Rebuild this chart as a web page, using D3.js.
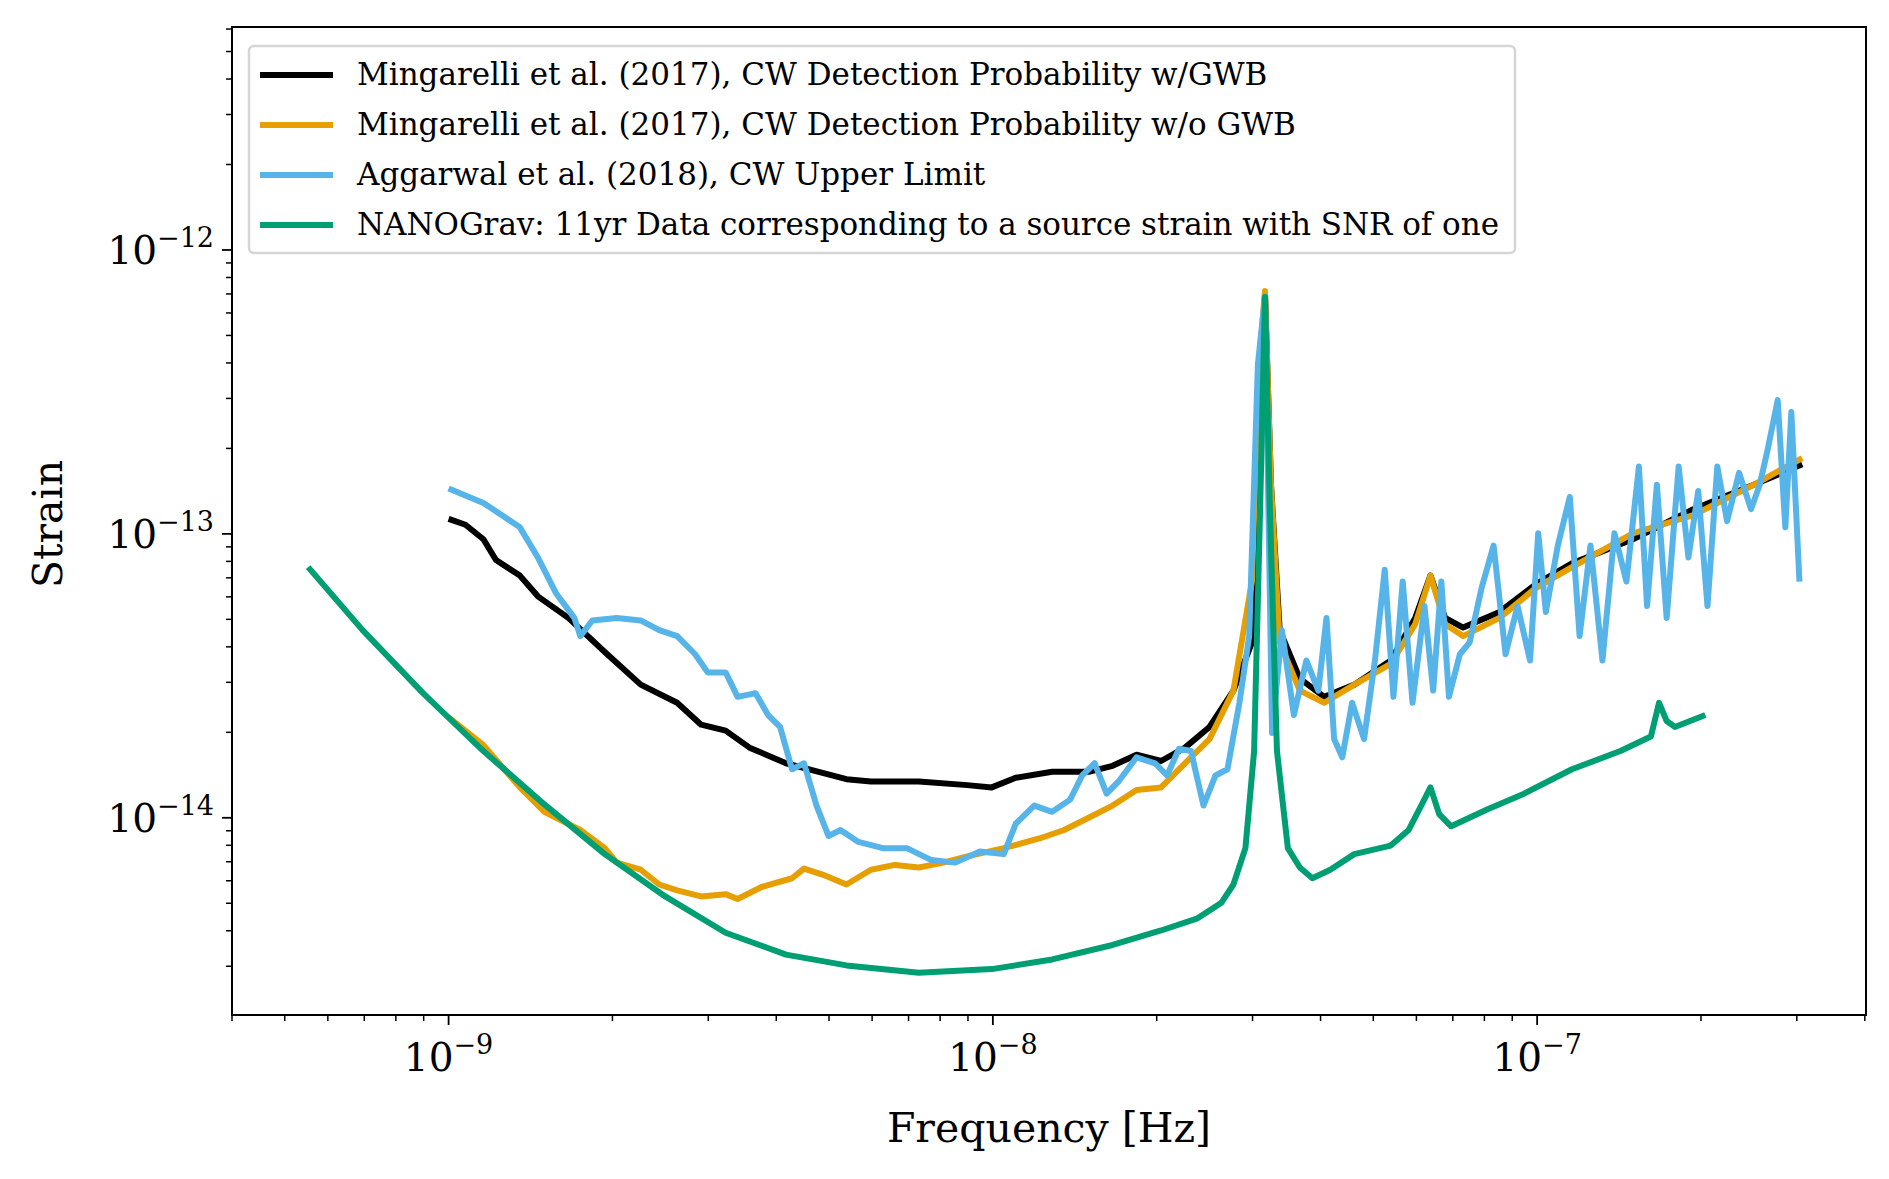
<!DOCTYPE html>
<html><head><meta charset="utf-8">
<script src="https://cdn.jsdelivr.net/npm/d3@7"></script>
<style>body{margin:0;background:#fff}text{font-family:"DejaVu Serif",serif;fill:#000}</style>
</head><body><svg id="c" width="1889" height="1179"></svg>
<script>
// [log10 frequency (Hz), log10 strain]
const blackGWB=[[-9.000,-12.947],[-8.969,-12.968],[-8.936,-13.019],[-8.913,-13.092],[-8.869,-13.147],[-8.836,-13.220],[-8.780,-13.296],[-8.713,-13.416],[-8.647,-13.531],[-8.580,-13.595],[-8.536,-13.672],[-8.491,-13.693],[-8.447,-13.753],[-8.380,-13.808],[-8.313,-13.842],[-8.269,-13.864],[-8.224,-13.872],[-8.136,-13.872],[-8.047,-13.885],[-8.002,-13.893],[-7.958,-13.859],[-7.891,-13.838],[-7.824,-13.838],[-7.780,-13.817],[-7.736,-13.778],[-7.691,-13.800],[-7.647,-13.753],[-7.602,-13.680],[-7.558,-13.552],[-7.524,-13.382],[-7.511,-12.614],[-7.500,-12.154],[-7.489,-12.827],[-7.473,-13.339],[-7.436,-13.510],[-7.391,-13.574],[-7.336,-13.531],[-7.269,-13.446],[-7.224,-13.296],[-7.196,-13.147],[-7.169,-13.296],[-7.136,-13.330],[-7.069,-13.275],[-7.002,-13.177],[-6.936,-13.104],[-6.824,-13.019],[-6.713,-12.913],[-6.602,-12.827],[-6.513,-12.755]];
const orangeNoGWB=[[-9.000,-13.646],[-8.936,-13.744],[-8.869,-13.893],[-8.824,-13.979],[-8.758,-14.043],[-8.713,-14.107],[-8.691,-14.158],[-8.647,-14.183],[-8.613,-14.235],[-8.580,-14.256],[-8.536,-14.277],[-8.491,-14.269],[-8.469,-14.286],[-8.424,-14.243],[-8.369,-14.213],[-8.347,-14.179],[-8.313,-14.200],[-8.269,-14.235],[-8.224,-14.183],[-8.180,-14.166],[-8.136,-14.175],[-8.091,-14.158],[-8.047,-14.136],[-7.980,-14.107],[-7.913,-14.072],[-7.869,-14.043],[-7.824,-14.000],[-7.780,-13.957],[-7.736,-13.902],[-7.691,-13.893],[-7.647,-13.808],[-7.602,-13.723],[-7.558,-13.552],[-7.524,-13.168],[-7.511,-12.401],[-7.500,-12.145],[-7.489,-12.827],[-7.473,-13.382],[-7.436,-13.552],[-7.391,-13.595],[-7.336,-13.531],[-7.269,-13.458],[-7.224,-13.318],[-7.196,-13.147],[-7.169,-13.318],[-7.136,-13.360],[-7.069,-13.296],[-7.002,-13.190],[-6.936,-13.117],[-6.824,-12.998],[-6.713,-12.934],[-6.602,-12.827],[-6.513,-12.733]];
const blueUL=[[-9.000,-12.840],[-8.936,-12.891],[-8.869,-12.977],[-8.836,-13.083],[-8.802,-13.211],[-8.769,-13.296],[-8.758,-13.360],[-8.736,-13.305],[-8.691,-13.296],[-8.647,-13.305],[-8.613,-13.339],[-8.580,-13.360],[-8.547,-13.424],[-8.524,-13.488],[-8.491,-13.488],[-8.469,-13.574],[-8.436,-13.561],[-8.413,-13.638],[-8.391,-13.680],[-8.369,-13.829],[-8.347,-13.808],[-8.324,-13.957],[-8.302,-14.064],[-8.280,-14.043],[-8.247,-14.085],[-8.202,-14.107],[-8.158,-14.107],[-8.113,-14.149],[-8.069,-14.158],[-8.024,-14.119],[-7.980,-14.128],[-7.958,-14.021],[-7.924,-13.957],[-7.891,-13.979],[-7.858,-13.936],[-7.836,-13.851],[-7.813,-13.808],[-7.791,-13.915],[-7.769,-13.872],[-7.736,-13.787],[-7.702,-13.808],[-7.680,-13.851],[-7.658,-13.757],[-7.636,-13.765],[-7.613,-13.957],[-7.591,-13.851],[-7.569,-13.829],[-7.547,-13.595],[-7.529,-13.360],[-7.513,-12.401],[-7.500,-12.166],[-7.487,-13.701],[-7.469,-13.339],[-7.447,-13.638],[-7.424,-13.446],[-7.402,-13.552],[-7.387,-13.296],[-7.373,-13.723],[-7.358,-13.787],[-7.340,-13.595],[-7.318,-13.723],[-7.298,-13.446],[-7.280,-13.126],[-7.264,-13.574],[-7.247,-13.168],[-7.229,-13.595],[-7.207,-13.254],[-7.191,-13.552],[-7.176,-13.168],[-7.162,-13.574],[-7.142,-13.424],[-7.124,-13.382],[-7.102,-13.190],[-7.080,-13.041],[-7.058,-13.424],[-7.036,-13.254],[-7.013,-13.446],[-6.998,-12.998],[-6.984,-13.275],[-6.962,-13.041],[-6.940,-12.870],[-6.922,-13.360],[-6.902,-13.041],[-6.880,-13.446],[-6.858,-12.998],[-6.836,-13.168],[-6.813,-12.763],[-6.798,-13.254],[-6.780,-12.827],[-6.762,-13.296],[-6.740,-12.763],[-6.722,-13.083],[-6.704,-12.849],[-6.687,-13.254],[-6.669,-12.763],[-6.651,-12.955],[-6.629,-12.785],[-6.607,-12.913],[-6.591,-12.827],[-6.576,-12.699],[-6.558,-12.529],[-6.544,-12.977],[-6.533,-12.571],[-6.518,-13.168]];
const greenNG=[[-9.258,-13.117],[-9.158,-13.339],[-9.047,-13.561],[-8.936,-13.765],[-8.824,-13.953],[-8.713,-14.128],[-8.602,-14.277],[-8.491,-14.405],[-8.380,-14.482],[-8.269,-14.520],[-8.136,-14.546],[-8.002,-14.533],[-7.891,-14.499],[-7.780,-14.448],[-7.691,-14.397],[-7.624,-14.354],[-7.580,-14.299],[-7.558,-14.235],[-7.536,-14.107],[-7.520,-13.765],[-7.509,-12.913],[-7.500,-12.166],[-7.491,-12.913],[-7.478,-13.765],[-7.458,-14.107],[-7.436,-14.175],[-7.413,-14.213],[-7.380,-14.183],[-7.336,-14.128],[-7.269,-14.098],[-7.236,-14.043],[-7.213,-13.957],[-7.196,-13.893],[-7.180,-13.987],[-7.158,-14.030],[-7.091,-13.970],[-7.024,-13.915],[-6.936,-13.829],[-6.847,-13.765],[-6.791,-13.714],[-6.776,-13.595],[-6.762,-13.659],[-6.747,-13.680],[-6.691,-13.638]];
const seriesNames=["Mingarelli et al. (2017), CW Detection Probability w/GWB","Mingarelli et al. (2017), CW Detection Probability w/o GWB","Aggarwal et al. (2018), CW Upper Limit","NANOGrav: 11yr Data corresponding to a source strain with SNR of one"];
const seriesColors=["#000000","#E69F00","#56B4E9","#009E73"];
const xTickExps=[-9,-8,-7];
const yTickExps=[-14,-13,-12];

const svg=d3.select("#c");
const L=232,R=1866,T=27,B=1015;
const x=d3.scaleLog().domain([4.0e-10,4.02e-7]).range([L,R]);
const y=d3.scaleLog().domain([2.02e-15,6.1e-12]).range([B,T]);
const all=[blackGWB,orangeNoGWB,blueUL,greenNG];
const line=d3.line().x(d=>x(Math.pow(10,d[0]))).y(d=>y(Math.pow(10,d[1])));
all.forEach((s,i)=>svg.append("path").attr("d",line(s)).attr("fill","none")
  .attr("stroke",seriesColors[i]).attr("stroke-width",6).attr("stroke-linejoin","round"));

const minorX=[],minorY=[];
for(let e=-10;e<=-7;e++)for(let m=2;m<=9;m++){const v=m*Math.pow(10,e);if(v>=4e-10&&v<=4.02e-7)minorX.push(v);}
for(let e=-15;e<=-12;e++)for(let m=2;m<=9;m++){const v=m*Math.pow(10,e);if(v>=2.02e-15&&v<=6.1e-12)minorY.push(v);}
const g=svg.append("g");
minorX.forEach(v=>g.append("line").attr("x1",x(v)).attr("x2",x(v)).attr("y1",B).attr("y2",B+6).attr("stroke","#000").attr("stroke-width",1.5));
minorY.forEach(v=>g.append("line").attr("y1",y(v)).attr("y2",y(v)).attr("x1",L).attr("x2",L-6).attr("stroke","#000").attr("stroke-width",1.5));
xTickExps.forEach(e=>{const px=x(Math.pow(10,e));
  g.append("line").attr("x1",px).attr("x2",px).attr("y1",B).attr("y2",B+10).attr("stroke","#000").attr("stroke-width",1.8);
  const t=g.append("text").attr("x",px).attr("y",B+56).attr("text-anchor","middle").attr("font-size",39);
  t.append("tspan").text("10");t.append("tspan").attr("font-size",27).attr("dy",-17).text("\u2212"+(-e));});
yTickExps.forEach(e=>{const py=y(Math.pow(10,e));
  g.append("line").attr("y1",py).attr("y2",py).attr("x1",L).attr("x2",L-10).attr("stroke","#000").attr("stroke-width",1.8);
  const t=g.append("text").attr("x",L-18).attr("y",py+14).attr("text-anchor","end").attr("font-size",39);
  t.append("tspan").text("10");t.append("tspan").attr("font-size",27).attr("dy",-17).text("\u2212"+(-e));});
svg.append("rect").attr("x",L).attr("y",T).attr("width",R-L).attr("height",B-T).attr("fill","none").attr("stroke","#000").attr("stroke-width",2);
svg.append("text").attr("x",(L+R)/2).attr("y",1142).attr("text-anchor","middle").attr("font-size",41).text("Frequency [Hz]");
svg.append("text").attr("transform","translate(62,524) rotate(-90)").attr("text-anchor","middle").attr("font-size",41).text("Strain");

const lg=svg.append("g");
lg.append("rect").attr("x",249).attr("y",46).attr("width",1266).attr("height",207).attr("rx",5)
  .attr("fill","rgba(255,255,255,0.8)").attr("stroke","#d5d5d5").attr("stroke-width",2.5);
seriesNames.forEach((n,i)=>{const yy=75+i*50;
  lg.append("line").attr("x1",260).attr("x2",333).attr("y1",yy).attr("y2",yy).attr("stroke",seriesColors[i]).attr("stroke-width",6);
  lg.append("text").attr("x",357).attr("y",yy+10).attr("font-size",31).attr("textLength",n===seriesNames[3]?1142:null).text(n);});
</script></body></html>
